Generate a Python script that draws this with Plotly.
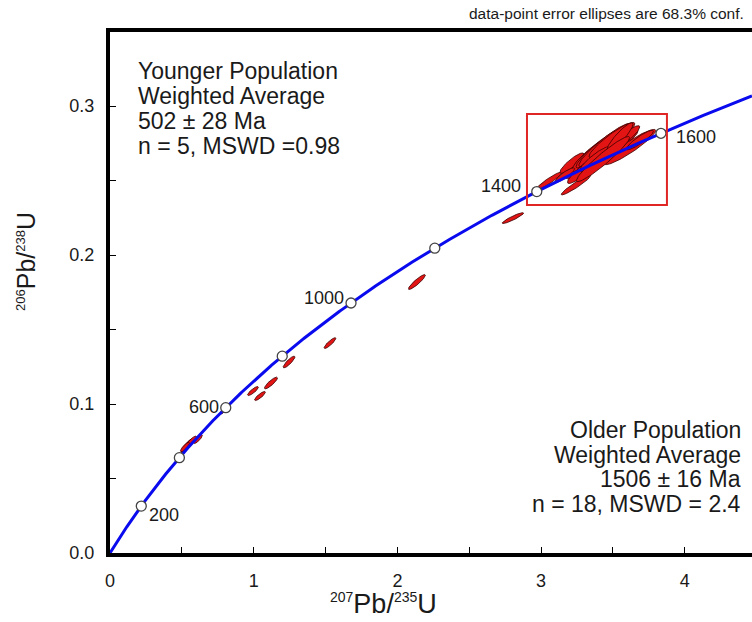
import numpy as np
import plotly.graph_objects as go

# ---------------- data ----------------
LAMBDA_238 = 1.55125e-10
LAMBDA_235 = 9.8485e-10
concordia_max_age_ma = 1725
marker_ages_ma = [200, 400, 600, 800, 1000, 1200, 1400, 1600]
labelled_ages_ma = [200, 600, 1000, 1400, 1600]

# analyses: 207Pb/235U, 206Pb/238U, 1-sigma errors and error correlation
pb207_u235 = [0.536, 0.557, 0.522, 0.612, 0.793,
              0.995, 1.044, 1.120, 1.246, 1.531, 2.136, 2.804,
              3.055, 3.243, 3.215, 3.257, 3.340, 3.410, 3.445, 3.493, 3.479,
              3.535, 3.584, 3.619, 3.305, 3.375, 3.549, 3.688, 3.431, 3.166]
pb206_u238 = [0.0718, 0.0738, 0.0711, 0.0765, 0.0960,
              0.1087, 0.1054, 0.1141, 0.1282, 0.1409, 0.1819, 0.2248,
              0.2497, 0.2470, 0.2617, 0.2584, 0.2671, 0.2718, 0.2738, 0.2772, 0.2691,
              0.2738, 0.2785, 0.2725, 0.2577, 0.2644, 0.2792, 0.2772, 0.2644, 0.2537]
err_207_235 = [0.026, 0.031, 0.021, 0.020, 0.016,
               0.025, 0.025, 0.030, 0.027, 0.027, 0.039, 0.049,
               0.060, 0.068, 0.055, 0.055, 0.085, 0.110, 0.120, 0.105, 0.092,
               0.092, 0.068, 0.118, 0.080, 0.070, 0.060, 0.062, 0.122, 0.045]
err_206_238 = [0.0031, 0.0031, 0.0021, 0.0020, 0.0018,
               0.0020, 0.0020, 0.0026, 0.0026, 0.0024, 0.0033, 0.0024,
               0.0040, 0.0044, 0.0045, 0.0048, 0.0074, 0.0088, 0.0096, 0.0078, 0.0066,
               0.0068, 0.0055, 0.0078, 0.0064, 0.0055, 0.0063, 0.0043, 0.0100, 0.0032]
rho = [0.86, 0.88, 0.82, 0.82, 0.82,
       0.85, 0.85, 0.87, 0.87, 0.88, 0.91, 0.92,
       0.94, 0.95, 0.88, 0.88, 0.92, 0.93, 0.93, 0.92, 0.92,
       0.92, 0.90, 0.93, 0.91, 0.90, 0.90, 0.90, 0.95, 0.88]
conf_level = 0.683

# highlight box (older population) in ratio units
box_x = [2.902, 3.876]
box_y = [0.2336, 0.2946]

x_range = [0, 4.468]
y_range = [0, 0.3497]
x_tickvals = [0, 0.5, 1, 1.5, 2, 2.5, 3, 3.5, 4]
x_ticktext = ["0", "", "1", "", "2", "", "3", "", "4"]
y_tickvals = [0, 0.05, 0.1, 0.15, 0.2, 0.25, 0.3]
y_ticktext = ["0.0", "", "0.1", "", "0.2", "", "0.3"]

younger_text = ["Younger Population", "Weighted Average", "502 ± 28 Ma", "n = 5, MSWD =0.98"]
older_text = ["Older Population", "Weighted Average", "1506 ± 16 Ma", "n = 18, MSWD = 2.4"]
x_title = ("<sup><span style='font-size:14px'>207</span></sup>Pb/"
           "<sup><span style='font-size:14px'>235</span></sup>U")
y_title = ("<sup><span style='font-size:13px'>206</span></sup>Pb/"
           "<sup><span style='font-size:13px'>238</span></sup>U")
note_text = "data-point error ellipses are 68.3% conf."

FONT = "Liberation Sans, Arial, sans-serif"
TXT = "#1a1a1a"

# ---------------- figure ----------------
def concordia(age_ma):
    t = np.asarray(age_ma, dtype=float) * 1e6
    return np.exp(LAMBDA_235 * t) - 1, np.exp(LAMBDA_238 * t) - 1

fig = go.Figure()

# error ellipses
k = np.sqrt(-2 * np.log(1 - conf_level))
th = np.linspace(0, 2 * np.pi, 90)
for cx, cy, sx, sy, r in zip(pb207_u235, pb206_u238, err_207_235, err_206_238, rho):
    ex = cx + k * sx * np.cos(th)
    ey = cy + k * sy * (r * np.cos(th) + np.sqrt(1 - r * r) * np.sin(th))
    fig.add_trace(go.Scatter(x=ex, y=ey, mode="lines", fill="toself",
                             fillcolor="#e31414", line=dict(color="#3a0000", width=0.8),
                             hoverinfo="skip", showlegend=False))

# concordia curve
ages = np.linspace(0, concordia_max_age_ma, 400)
cxs, cys = concordia(ages)
fig.add_trace(go.Scatter(x=cxs, y=cys, mode="lines", line=dict(color="#0a0aee", width=3),
                         hoverinfo="skip", showlegend=False))
mx, my = concordia(marker_ages_ma)
fig.add_trace(go.Scatter(x=mx, y=my, mode="markers",
                         marker=dict(size=10, color="white", line=dict(color="#444444", width=1.3)),
                         showlegend=False))

# age labels
label_offsets = {200: ("left", 6, -9), 600: ("right", -5, 1), 1000: ("right", -5, 5),
                 1400: ("right", -14, 6), 1600: ("left", 13, -4)}
for a in labelled_ages_ma:
    ax_, ay_ = concordia([a])
    anc, xs, ys = label_offsets[a]
    fig.add_annotation(x=float(ax_[0]), y=float(ay_[0]), text=str(a), showarrow=False,
                       xanchor=anc, yanchor="middle", xshift=xs, yshift=ys,
                       font=dict(family=FONT, size=18, color=TXT))

# box
fig.add_shape(type="rect", x0=box_x[0], x1=box_x[1], y0=box_y[0], y1=box_y[1],
              line=dict(color="#e02525", width=2))

# texts (pixel positions converted to paper coords)
L, T, W, H = 110, 32, 642, 521
def px(xp): return (xp - L) / W
def py(yp): return (T + H - yp) / H
for i, s in enumerate(younger_text):
    fig.add_annotation(xref="paper", yref="paper", x=px(136), y=py(71 + 25 * i), text=s,
                       showarrow=False, xanchor="left", yanchor="middle",
                       font=dict(family=FONT, size=23, color=TXT))
for i, s in enumerate(older_text):
    fig.add_annotation(xref="paper", yref="paper", x=px(743), y=py(430 + 24.7 * i), text=s,
                       showarrow=False, xanchor="right", yanchor="middle",
                       font=dict(family=FONT, size=23, color=TXT))
fig.add_annotation(xref="paper", yref="paper", x=px(746), y=py(14), text=note_text,
                   showarrow=False, xanchor="right", yanchor="middle",
                   font=dict(family=FONT, size=15.5, color=TXT))
fig.add_annotation(xref="paper", yref="paper", x=px(383), y=py(604), text=x_title,
                   showarrow=False, xanchor="center", yanchor="middle",
                   font=dict(family=FONT, size=27, color=TXT))
fig.add_annotation(xref="paper", yref="paper", x=px(26), y=py(262), text=y_title,
                   showarrow=False, xanchor="center", yanchor="middle", textangle=-90,
                   font=dict(family=FONT, size=25, color=TXT))

fig.update_layout(
    width=752, height=622, autosize=False,
    margin=dict(l=L, r=0, t=T, b=622 - T - H),
    paper_bgcolor="white", plot_bgcolor="white",
    font=dict(family=FONT, color=TXT),
    xaxis=dict(range=x_range, showgrid=False, zeroline=False,
               showline=True, linecolor="black", linewidth=4, mirror=True,
               tickmode="array", tickvals=x_tickvals, ticktext=x_ticktext,
               ticks="inside", ticklen=6, tickcolor="black", tickwidth=1,
               ticklabelstandoff=8,
               tickfont=dict(size=18, family=FONT, color=TXT)),
    yaxis=dict(range=y_range, showgrid=False, zeroline=False,
               showline=True, linecolor="black", linewidth=4, mirror=False,
               tickmode="array", tickvals=y_tickvals, ticktext=y_ticktext,
               ticks="inside", ticklen=6, tickcolor="black", tickwidth=1,
               ticklabelstandoff=8,
               tickfont=dict(size=18, family=FONT, color=TXT)),
)

fig.write_html("out.html")
